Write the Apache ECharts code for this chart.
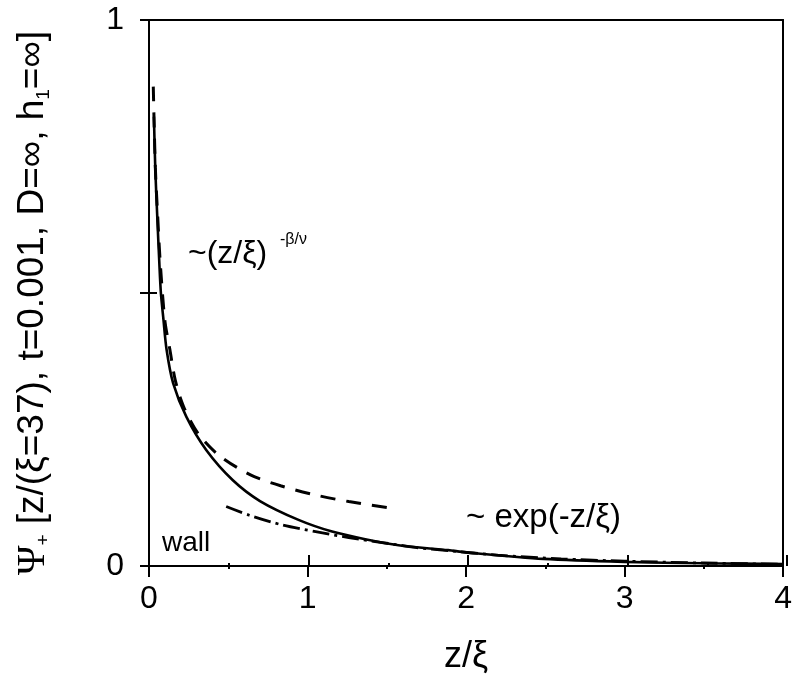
<!DOCTYPE html>
<html>
<head>
<meta charset="utf-8">
<script src="https://cdn.jsdelivr.net/npm/echarts@6/dist/echarts.min.js"></script>
<style>
  html, body { margin: 0; padding: 0; background: #fff; }
  #chart { width: 795px; height: 684px; }
</style>
</head>
<body>
<div id="chart"></div>
<script>
// Order-parameter profile near the wall and its two asymptotes
const profile = [
  [0.031, 0.823], [0.040, 0.725], [0.053, 0.634], [0.065, 0.556], [0.075, 0.500],
  [0.090, 0.455], [0.111, 0.396], [0.152, 0.335], [0.236, 0.273], [0.362, 0.212],
  [0.529, 0.157], [0.700, 0.119], [0.947, 0.084], [1.155, 0.063], [1.364, 0.049],
  [1.574, 0.038], [1.887, 0.029], [2.000, 0.025], [2.490, 0.013], [3.000, 0.0075],
  [3.500, 0.0050], [4.000, 0.0035]
];
// short-distance power law ~(z/xi)^(-beta/nu)
const powerLaw = [
  [0.027, 0.878], [0.040, 0.730], [0.055, 0.640], [0.070, 0.560], [0.100, 0.450],
  [0.132, 0.396], [0.166, 0.340], [0.218, 0.292], [0.309, 0.243], [0.440, 0.203],
  [0.640, 0.167], [0.830, 0.147], [1.051, 0.130], [1.260, 0.118], [1.500, 0.107]
];
// long-distance exponential tail ~exp(-z/xi)
const expTail = [
  [0.487, 0.109], [0.633, 0.093], [0.842, 0.075], [1.051, 0.063], [1.260, 0.052],
  [1.470, 0.043], [1.680, 0.034], [1.887, 0.028], [2.200, 0.020], [2.600, 0.013],
  [3.000, 0.009], [3.500, 0.0055], [4.000, 0.0033]
];
const xTicks = [0, 1, 2, 3, 4];
const yTicks = [0, 0.5, 1];
const yLabelled = [0, 1];

const FONT = '"Liberation Sans", Arial, sans-serif';
const black = '#000';
const gridRect = { left: 149, right: 8, top: 20, bottom: 118 };

const chart = echarts.init(document.getElementById('chart'), null, { renderer: 'canvas' });

const baseX = {
  type: 'value', min: xTicks[0], max: xTicks[xTicks.length - 1], interval: 1,
  splitLine: { show: false }
};
const baseY = {
  type: 'value', min: yTicks[0], max: yTicks[yTicks.length - 1], interval: 0.5,
  splitLine: { show: false }
};

const option = {
  animation: false,
  backgroundColor: '#fff',
  grid: [
    Object.assign({}, gridRect),
    Object.assign({}, gridRect)
  ],
  xAxis: [
    Object.assign({}, baseX, {
      gridIndex: 0, position: 'bottom',
      axisLine: { show: true, onZero: false, lineStyle: { color: black, width: 2 } },
      axisTick: { show: true, inside: false, length: 11, lineStyle: { color: black, width: 2 } },
      minorTick: { show: true, splitNumber: 2, length: 3, lineStyle: { color: black, width: 2 } },
      axisLabel: { show: true, margin: 17, color: black, fontSize: 32, fontFamily: FONT },
      name: 'z/ξ', nameLocation: 'middle', nameGap: 73,
      nameTextStyle: { color: black, fontSize: 36, fontFamily: FONT }
    }),
    Object.assign({}, baseX, {
      gridIndex: 0, position: 'top',
      axisLine: { show: true, onZero: false, lineStyle: { color: black, width: 2 } },
      axisTick: { show: false }, axisLabel: { show: false }
    }),
    Object.assign({}, baseX, {
      gridIndex: 1, position: 'bottom',
      axisLine: { show: false },
      axisTick: { show: true, inside: true, length: 11, lineStyle: { color: black, width: 2 } },
      minorTick: { show: true, splitNumber: 2, length: 3, lineStyle: { color: black, width: 2 } },
      axisLabel: { show: false }
    })
  ],
  yAxis: [
    Object.assign({}, baseY, {
      gridIndex: 0, position: 'left',
      axisLine: { show: true, onZero: false, lineStyle: { color: black, width: 2 } },
      axisTick: { show: true, inside: false, length: 9, lineStyle: { color: black, width: 2 } },
      axisLabel: {
        show: true, margin: 25, color: black, fontSize: 32, fontFamily: FONT,
        formatter: v => (yLabelled.indexOf(v) >= 0 ? String(v) : '')
      },
      name: '{psi|Ψ}{sub|+} [z/(ξ=37), t=0.001, D=∞, h{sub|1}=∞]',
      nameLocation: 'middle', nameRotate: 90, nameGap: 96,
      nameTextStyle: {
        color: black, fontSize: 37, fontFamily: FONT, lineHeight: 40,
        padding: [0, 20, 0, 0],
        rich: {
          psi: { fontSize: 40, fontFamily: '"Liberation Serif", serif', color: black, lineHeight: 40 },
          sub: { fontSize: 19, fontFamily: FONT, color: black, lineHeight: 15, verticalAlign: 'bottom' }
        }
      }
    }),
    Object.assign({}, baseY, {
      gridIndex: 0, position: 'right',
      axisLine: { show: true, onZero: false, lineStyle: { color: black, width: 2 } },
      axisTick: { show: false }, axisLabel: { show: false }
    }),
    Object.assign({}, baseY, {
      gridIndex: 1, position: 'left',
      axisLine: { show: false },
      axisTick: { show: true, inside: true, length: 8, lineStyle: { color: black, width: 2 } },
      axisLabel: { show: false }
    })
  ],
  series: [
    {
      name: 'profile', type: 'line', xAxisIndex: 0, yAxisIndex: 0,
      data: profile, showSymbol: false, smooth: 0.3,
      lineStyle: { color: black, width: 2.6, type: 'solid' }
    },
    {
      name: 'power law', type: 'line', xAxisIndex: 0, yAxisIndex: 0,
      data: powerLaw, showSymbol: false, smooth: 0.3,
      lineStyle: { color: black, width: 3, type: [15, 11] }
    },
    {
      name: 'exponential', type: 'line', xAxisIndex: 0, yAxisIndex: 0,
      data: expTail, showSymbol: false, smooth: 0.3,
      lineStyle: { color: black, width: 2.8, type: [17, 5, 3, 5] }
    }
  ],
  graphic: [
    { type: 'text', left: 188, top: 238,
      style: { text: '~(z/ξ)', fill: black, font: '32px ' + FONT } },
    { type: 'text', left: 280, top: 232,
      style: { text: '-β/ν', fill: black, font: '16px ' + FONT } },
    { type: 'text', left: 466, top: 501,
      style: { text: '~ exp(-z/ξ)', fill: black, font: '33px ' + FONT } },
    { type: 'text', left: 162, top: 529,
      style: { text: 'wall', fill: black, font: '28px ' + FONT } }
  ]
};

chart.setOption(option);
</script>
</body>
</html>
